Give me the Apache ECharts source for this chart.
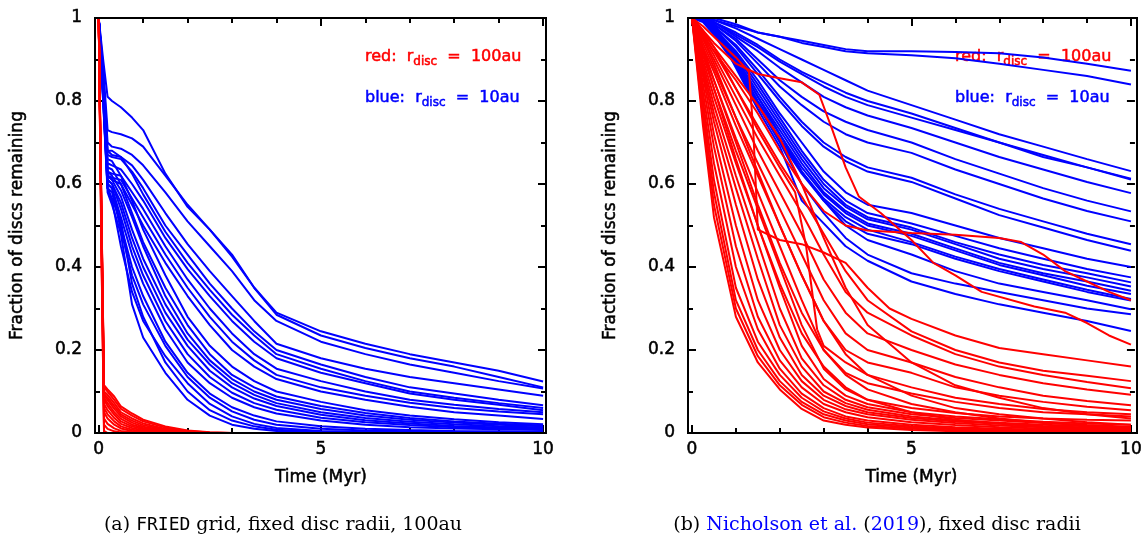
<!DOCTYPE html>
<html><head><meta charset="utf-8">
<script src="https://cdn.jsdelivr.net/npm/echarts@6/dist/echarts.min.js"></script>
<style>html,body{margin:0;padding:0;background:#fff}#c{width:1145px;height:537px}</style>
</head><body><div id="c"></div>
<script>
// ---------- DATA ----------
// Left panel (a): time grid for blue (10 au) curves
const leftBlueT = [0, 0.1, 0.2, 0.3, 0.5, 0.75, 1, 1.5, 2, 2.5, 3, 3.5, 4, 5, 6, 7, 8, 9, 10];
const leftBlue = [
  [1, .90, .81, .80, .785, .76, .73, .625, .545, .49, .425, .35, .29, .245, .215, .19, .17, .15, .124],
  [1, .88, .73, .725, .72, .71, .69, .62, .55, .49, .43, .35, .285, .235, .205, .18, .16, .135, .11],
  [1, .87, .70, .69, .685, .67, .645, .58, .51, .45, .39, .32, .27, .22, .19, .165, .145, .125, .107],
  [1, .86, .68, .67, .665, .645, .61, .53, .455, .39, .33, .27, .215, .18, .155, .135, .12, .105, .09],
  [1, .86, .67, .665, .66, .63, .59, .50, .43, .36, .30, .245, .20, .165, .135, .11, .095, .08, .067],
  [1, .85, .68, .68, .665, .625, .575, .485, .41, .345, .285, .235, .19, .155, .125, .10, .085, .072, .06],
  [1, .85, .65, .645, .635, .60, .56, .47, .395, .33, .27, .22, .18, .145, .12, .095, .08, .068, .055],
  [1, .84, .63, .625, .62, .58, .54, .45, .37, .30, .24, .19, .155, .125, .10, .08, .068, .058, .05],
  [1, .84, .62, .615, .61, .565, .52, .43, .35, .28, .22, .175, .14, .11, .09, .073, .06, .052, .045],
  [1, .83, .62, .61, .60, .55, .50, .41, .33, .26, .20, .16, .13, .10, .08, .063, .05, .042, .034],
  [1, .85, .66, .655, .62, .56, .49, .38, .28, .21, .16, .125, .10, .075, .055, .042, .033, .026, .021],
  [1, .84, .64, .635, .60, .53, .46, .35, .26, .19, .14, .11, .088, .065, .048, .036, .028, .022, .018],
  [1, .84, .63, .62, .585, .52, .45, .33, .24, .175, .13, .10, .08, .058, .042, .032, .025, .02, .016],
  [1, .83, .62, .61, .57, .49, .42, .31, .225, .165, .12, .092, .072, .05, .036, .027, .021, .016, .013],
  [1, .83, .61, .60, .555, .47, .40, .29, .21, .15, .11, .083, .065, .044, .031, .023, .017, .013, .011],
  [1, .82, .61, .60, .54, .45, .38, .27, .19, .135, .097, .072, .056, .037, .026, .019, .014, .011, .009],
  [1, .82, .60, .59, .52, .43, .36, .25, .17, .12, .085, .062, .047, .03, .02, .014, .011, .009, .007],
  [1, .82, .60, .59, .50, .40, .33, .22, .145, .095, .062, .042, .028, .016, .01, .007, .005, .004, .003],
  [1, .81, .59, .58, .49, .38, .31, .21, .135, .085, .052, .032, .02, .01, .006, .004, .003, .002, .001],
  [1, .81, .59, .56, .45, .34, .27, .185, .12, .07, .04, .022, .012, .005, .003, .002, .001, 0, 0],
  [1, .80, .58, .55, .48, .31, .23, .145, .08, .042, .02, .01, .005, .002, .001, 0, 0, 0, 0],
  [1, .80, .59, .565, .51, .36, .28, .17, .10, .055, .03, .016, .008, .003, .001, 0, 0, 0, 0]
];
// Left panel (a): time grid for red (100 au) curves
const leftRedT = [0, 0.06, 0.12, 0.2, 0.35, 0.5, 0.75, 1, 1.5, 2, 2.5, 3, 10];
const leftRed = [
  [1, .55, .115, .105, .088, .064, .047, .032, .016, .006, .002, 0, 0],
  [1, .55, .11, .10, .08, .058, .042, .028, .013, .005, .001, 0, 0],
  [1, .54, .10, .092, .072, .05, .035, .023, .01, .003, 0, 0, 0],
  [1, .54, .095, .085, .065, .045, .03, .019, .008, .002, 0, 0, 0],
  [1, .53, .09, .08, .058, .04, .025, .015, .006, .001, 0, 0, 0],
  [1, .53, .085, .072, .05, .034, .02, .012, .004, 0, 0, 0, 0],
  [1, .52, .08, .065, .044, .028, .016, .009, .003, 0, 0, 0, 0],
  [1, .52, .07, .055, .036, .022, .012, .006, .002, 0, 0, 0, 0],
  [1, .51, .06, .045, .028, .016, .008, .004, .001, 0, 0, 0, 0],
  [1, .50, .05, .035, .02, .011, .005, .002, 0, 0, 0, 0, 0],
  [1, .50, .035, .022, .011, .005, .002, 0, 0, 0, 0, 0, 0],
  [1, .48, .02, .01, .004, .001, 0, 0, 0, 0, 0, 0, 0],
  [1, .46, .005, 0, 0, 0, 0, 0, 0, 0, 0, 0, 0],
  [1, .45, 0, 0, 0, 0, 0, 0, 0, 0, 0, 0, 0]
];
// Right panel (b): shared time grid
const rightT = [0, 0.25, 0.5, 1, 1.5, 2, 2.5, 3, 3.5, 4, 5, 6, 7, 8, 9, 10];
const rightBlue = [
  [1, 1, 1, .985, .965, .955, .945, .935, .925, .92, .92, .918, .915, .905, .89, .873],
  [1, 1, .995, .98, .965, .955, .94, .93, .92, .915, .91, .903, .89, .875, .86, .84],
  [1, 1, .995, .975, .95, .925, .90, .875, .85, .825, .79, .755, .72, .69, .66, .631],
  [1, 1, .99, .965, .935, .90, .87, .845, .82, .80, .77, .735, .70, .67, .64, .613],
  [1, 1, .99, .96, .93, .895, .865, .835, .81, .79, .76, .73, .70, .665, .64, .611],
  [1, 1, .99, .955, .92, .88, .845, .81, .785, .765, .735, .70, .665, .635, .605, .578],
  [1, 1, .985, .95, .90, .85, .81, .775, .75, .73, .70, .66, .625, .59, .56, .534],
  [1, 1, .985, .945, .89, .835, .79, .75, .72, .70, .675, .635, .60, .565, .535, .51],
  [1, 1, .98, .935, .875, .81, .75, .70, .665, .64, .615, .575, .54, .51, .48, .455],
  [1, 1, .98, .93, .865, .80, .74, .69, .655, .63, .605, .565, .525, .495, .465, .439],
  [1, .995, .975, .92, .85, .77, .70, .63, .58, .55, .53, .50, .47, .445, .42, .40],
  [1, .995, .975, .915, .84, .76, .68, .61, .56, .53, .505, .475, .445, .42, .395, .375],
  [1, .995, .97, .91, .83, .75, .67, .60, .55, .52, .495, .46, .43, .405, .385, .363],
  [1, .995, .97, .905, .82, .74, .66, .59, .545, .515, .49, .455, .42, .395, .375, .353],
  [1, .995, .97, .90, .81, .73, .65, .58, .535, .505, .48, .445, .41, .385, .365, .343],
  [1, .995, .965, .895, .80, .72, .64, .575, .53, .50, .475, .44, .405, .38, .355, .335],
  [1, .995, .965, .89, .795, .71, .63, .565, .52, .49, .46, .425, .395, .37, .345, .323],
  [1, .99, .96, .885, .79, .705, .625, .56, .51, .48, .455, .42, .39, .365, .34, .319],
  [1, 1, .985, .90, .81, .72, .63, .56, .50, .465, .43, .39, .36, .34, .32, .298],
  [1, 1, .98, .89, .79, .70, .60, .53, .47, .43, .385, .36, .34, .32, .30, .286],
  [1, 1, .98, .88, .78, .69, .56, .505, .45, .415, .365, .335, .31, .29, .27, .246]
];
const rightRed = [
  [1, .74, .52, .28, .17, .105, .058, .03, .02, .013, .007, .004, .003, .002, .002, .001],
  [1, .76, .55, .30, .185, .115, .068, .038, .025, .017, .01, .006, .004, .003, .002, .002],
  [1, .78, .58, .32, .20, .125, .075, .045, .03, .021, .013, .009, .006, .005, .004, .003],
  [1, .80, .61, .35, .22, .14, .085, .052, .035, .025, .016, .011, .008, .006, .005, .004],
  [1, .82, .65, .40, .25, .155, .095, .06, .04, .03, .02, .014, .01, .008, .006, .005],
  [1, .84, .69, .45, .28, .175, .11, .07, .05, .038, .026, .019, .014, .011, .009, .007],
  [1, .86, .72, .50, .32, .20, .125, .08, .057, .045, .032, .024, .018, .014, .011, .009],
  [1, .87, .75, .55, .37, .23, .14, .09, .065, .05, .036, .028, .022, .017, .013, .01],
  [1, .88, .77, .59, .42, .26, .16, .10, .072, .056, .04, .031, .025, .02, .016, .012],
  [1, .89, .79, .62, .46, .30, .18, .115, .08, .062, .045, .036, .03, .024, .019, .015],
  [1, .90, .81, .65, .50, .35, .21, .13, .09, .07, .05, .04, .033, .027, .023, .02],
  [1, .91, .83, .68, .54, .40, .26, .155, .105, .08, .06, .048, .04, .035, .032, .03],
  [1, .92, .85, .71, .58, .45, .32, .20, .145, .12, .095, .075, .06, .05, .045, .04],
  [1, .93, .87, .74, .62, .50, .38, .27, .20, .17, .145, .11, .09, .075, .063, .055],
  [1, .94, .88, .76, .65, .54, .43, .32, .24, .20, .17, .135, .11, .09, .077, .067],
  [1, .95, .90, .79, .68, .58, .48, .37, .29, .24, .20, .165, .14, .12, .105, .092],
  [1, .955, .91, .81, .71, .62, .53, .43, .34, .29, .235, .19, .16, .14, .123, .108],
  [1, .96, .92, .83, .74, .65, .57, .48, .39, .32, .245, .20, .17, .15, .138, .125],
  [1, .97, .93, .86, .79, .71, .60, .47, .35, .26, .17, .115, .085, .06, .045, .035],
  [1, .95, .89, .76, .63, .50, .38, .27, .19, .14, .09, .06, .045, .035, .026, .02],
  [1, .93, .85, .70, .55, .41, .29, .20, .14, .105, .07, .05, .035, .025, .018, .013],
  [1, .92, .83, .66, .50, .36, .24, .16, .11, .08, .05, .032, .022, .015, .01, .007]
];
// Right panel (b): red curves with abrupt features, as [time, fraction] pairs
const rightRedPlateauHigh = [[0,1],[.25,.97],[.5,.94],[1,.89],[1.5,.865],[2,.855],[2.5,.845],[2.9,.815],[3.2,.73],[3.5,.64],[3.8,.57],[4.3,.53],[5,.465],[5.5,.41],[6,.38],[6.6,.34],[7.8,.305],[8.5,.29],[9,.265],[9.5,.235],[10,.213]];
const rightRedPlateauMid = [[0,1],[.25,.96],[.5,.92],[1,.85],[1.5,.77],[2,.68],[2.5,.60],[3,.535],[3.5,.50],[4,.488],[5,.482],[6,.478],[7,.47],[7.5,.46],[8,.43],[8.5,.39],[9,.365],[9.5,.34],[10,.32]];
const rightRedEarlyDrop = [[0,1],[.25,.98],[.5,.955],[1,.905],[1.3,.87],[1.4,.72],[1.5,.49],[2,.465],[2.5,.455],[3,.435],[3.5,.41],[4,.35],[4.5,.30],[5,.275],[6,.235],[7,.205],[8,.19],[9,.175],[10,.16]];
const rightRedLateDrop = [[0,1],[.5,.93],[1,.83],[1.5,.73],[2,.64],[2.35,.58],[2.6,.45],[2.85,.25],[3,.21],[3.5,.17],[4,.14],[5,.11],[6,.085],[7,.07],[8,.058],[9,.05],[10,.045]];

const yTicks = ['0', '0.2', '0.4', '0.6', '0.8', '1'];
const xTicks = ['0', '5', '10'];

// ---------- CHART ----------
const BLUE = '#0000ff', RED = '#ff0000';
const FONT = 'DejaVu Sans';
const chart = echarts.init(document.getElementById('c'), null, {renderer: 'canvas'});

function pairs(ts, vs) { return ts.map((t, i) => [t, vs[i]]); }
function lineSeries(data, color, gi) {
  return {
    type: 'line', data: data, xAxisIndex: gi * 4, yAxisIndex: gi * 4,
    showSymbol: false, symbol: 'none', clip: false, silent: true, animation: false,
    lineStyle: {color: color, width: 2}, z: 2
  };
}
const series = [];
leftBlue.forEach(v => series.push(lineSeries(pairs(leftBlueT, v), BLUE, 0)));
leftRed.forEach(v => series.push(lineSeries(pairs(leftRedT, v), RED, 0)));
rightBlue.forEach(v => series.push(lineSeries(pairs(rightT, v), BLUE, 1)));
rightRed.forEach(v => series.push(lineSeries(pairs(rightT, v), RED, 1)));
[rightRedPlateauHigh, rightRedPlateauMid, rightRedEarlyDrop, rightRedLateDrop]
  .forEach(d => series.push(lineSeries(d, RED, 1)));

const grids = [
  {left: 98.7, right: 1145 - 543.1, top: 18, bottom: 104},
  {left: 692, right: 1145 - 1133, top: 18, bottom: 104}
];
const frames = [[95, 546], [688, 1137]];

const tick = (len) => ({show: true, inside: true, length: len, lineStyle: {color: '#000', width: 2}});
const labelStyle = {color: '#000', fontSize: 17, fontFamily: FONT, textBorderColor: '#000', textBorderWidth: 0.5};
const nameStyle = {color: '#000', fontSize: 17, fontFamily: FONT, textBorderColor: '#000', textBorderWidth: 0.5};

const xAxes = [], yAxes = [];
[0, 1].forEach(gi => {
  const g = grids[gi];
  const xl = g.left, xr = 1145 - g.right;
  const offL = xl - frames[gi][0], offR = frames[gi][1] - xr;
  const baseX = (pos, interval, len) => ({
    type: 'value', gridIndex: gi, position: pos, min: 0, max: 10, interval: interval,
    axisLine: {show: false, onZero: false}, axisTick: tick(len), splitLine: {show: false}, axisLabel: {show: false}
  });
  const baseY = (pos, off, interval, len) => ({
    type: 'value', gridIndex: gi, position: pos, offset: off, min: 0, max: 1, interval: interval,
    axisLine: {show: false, onZero: false}, axisTick: tick(len), splitLine: {show: false}, axisLabel: {show: false}
  });
  // bottom major (labelled) + minor, top major + minor
  xAxes.push(Object.assign(baseX('bottom', 5, 8), {
    axisLabel: Object.assign({show: true, margin: 8, formatter: v => xTicks[v / 5]}, labelStyle),
    name: 'Time (Myr)', nameLocation: 'middle', nameGap: 36, nameTextStyle: nameStyle
  }));
  xAxes.push(baseX('bottom', 1, 5));
  xAxes.push(baseX('top', 5, 8));
  xAxes.push(baseX('top', 1, 5));
  // left major (labelled) + minor, right major + minor
  yAxes.push(Object.assign(baseY('left', offL, 0.2, 8), {
    axisLabel: Object.assign({show: true, margin: 13, formatter: v => yTicks[Math.round(v * 5)]}, labelStyle),
    name: 'Fraction of discs remaining', nameLocation: 'middle', nameGap: 69, nameTextStyle: nameStyle
  }));
  yAxes.push(baseY('left', offL, 0.1, 5));
  yAxes.push(baseY('right', offR, 0.2, 8));
  yAxes.push(baseY('right', offR, 0.1, 5));
});

const legendRich = (c) => ({
  m: {color: c, fontSize: 16, fontFamily: FONT, fontWeight: 'normal', lineHeight: 20, textBorderColor: c, textBorderWidth: 0.5},
  s: {color: c, fontSize: 12, fontFamily: FONT, fontWeight: 'normal', padding: [9, 0, 0, 0], lineHeight: 20, textBorderColor: c, textBorderWidth: 0.5}
});
const titles = [];
[365, 955].forEach(x => {
  titles.push({text: '{m|red:  r}{s|disc}{m|  =  100au}', left: x, top: 47, z: 1, padding: 0,
    textStyle: {fontWeight: 'normal', rich: legendRich(RED)}});
  titles.push({text: '{m|blue:  r}{s|disc}{m|  =  10au}', left: x, top: 88, z: 1, padding: 0,
    textStyle: {fontWeight: 'normal', rich: legendRich(BLUE)}});
});
const capRich = {
  t: {color: '#000', fontSize: 19, fontFamily: 'DejaVu Serif', fontWeight: 'normal'},
  tt: {color: '#000', fontSize: 18, fontFamily: 'DejaVu Sans Mono', fontWeight: 'normal'},
  b: {color: BLUE, fontSize: 19, fontFamily: 'DejaVu Serif', fontWeight: 'normal'}
};
titles.push({text: '{t|(a) }{tt|FRIED}{t| grid, fixed disc radii, 100au}', left: 283, top: 516, padding: 0,
  textAlign: 'center', textStyle: {fontWeight: 'normal', rich: capRich}});
titles.push({text: '{t|(b) }{b|Nicholson et al.}{t| (}{b|2019}{t|), fixed disc radii}', left: 877, top: 516, padding: 0,
  textAlign: 'center', textStyle: {fontWeight: 'normal', rich: capRich}});

chart.setOption({
  backgroundColor: '#fff',
  animation: false,
  title: titles,
  grid: grids,
  xAxis: xAxes,
  yAxis: yAxes,
  graphic: frames.map(f => ({
    type: 'rect', shape: {x: f[0], y: 18, width: f[1] - f[0], height: 415},
    style: {fill: 'none', stroke: '#000', lineWidth: 2}, z: 10, silent: true
  })),
  series: series
});
</script></body></html>
